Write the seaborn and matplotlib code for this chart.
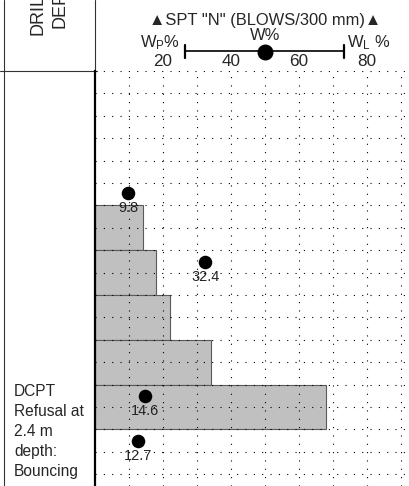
import numpy as np
import pandas as pd
import matplotlib
matplotlib.use("Agg")
import matplotlib.pyplot as plt
import seaborn as sns
from matplotlib import font_manager

# ---------------- data ----------------
bar_top_depth = [0.9, 1.2, 1.5, 1.8, 2.1]          # m
bar_bottom_depth = [1.2, 1.5, 1.8, 2.1, 2.4]       # m
blows = [14, 18, 22, 34, 68]                       # DCPT blows / 300 mm

w_depth = [0.82, 1.28, 2.18, 2.48]                 # m
w_values = [9.8, 32.4, 14.6, 12.7]                 # moisture content %
w_labels = ["9.8", "32.4", "14.6", "12.7"]

scale_ticks = [20, 40, 60, 80]
note_text = "DCPT\nRefusal at\n2.4 m\ndepth:\nBouncing"

# ---------------- fonts ----------------
sns.set_theme(style="white")
names = {f.name for f in font_manager.fontManager.ttflist}
narrow = "Liberation Sans Narrow" in names
main_font = "Liberation Sans Narrow" if narrow else "Liberation Sans"
plt.rcParams["font.family"] = [main_font, "Liberation Sans", "DejaVu Sans"]
plt.rcParams["mathtext.default"] = "regular"
k = 1.0 if narrow else 0.88   # size factor for wide fallback font

W, H = 409, 486
fig = plt.figure(figsize=(W / 100, H / 100), dpi=100)

# background axes in pixel coordinates (for frame lines and header text)
bg = fig.add_axes([0, 0, 1, 1])
bg.set_xlim(0, W)
bg.set_ylim(H, 0)
bg.axis("off")

# main plot axes
x_left_px, y_top_px = 95, 71
px_per_unit = 3.4
px_per_m = 149.3
ax = fig.add_axes([x_left_px / W, 0, (W - x_left_px) / W, (H - y_top_px) / H])
ax.set_facecolor("none")

df_bars = pd.DataFrame({
    "depth": [(a + b) / 2 for a, b in zip(bar_top_depth, bar_bottom_depth)],
    "blows": blows,
})
sns.barplot(data=df_bars, x="blows", y="depth", orient="y", native_scale=True,
            width=1.0, color="#c0c0c0", saturation=1, edgecolor="#5a5a5a",
            linewidth=0.8, errorbar=None, ax=ax)

df_w = pd.DataFrame({"w": w_values, "depth": w_depth})
sns.scatterplot(data=df_w, x="w", y="depth", color="black", s=95,
                edgecolor="black", linewidth=0, zorder=4, ax=ax)
for xv, yv, lab in zip(w_values, w_depth, w_labels):
    ax.annotate(lab, (xv, yv), xytext=(0, -10.5), textcoords="offset points",
                ha="center", va="center", fontsize=11 * (1 if narrow else 0.95),
                color="#222222", zorder=5)

ax.set_xlim(0, (W - x_left_px) / px_per_unit)
ax.set_ylim((H - y_top_px) / px_per_m, 0)
ax.set_xticks(np.arange(10, 91, 10))
ax.set_yticks(np.arange(0, 2.79, 0.15))
ax.tick_params(length=0, labelbottom=False, labelleft=False)
ax.set_xlabel("")
ax.set_ylabel("")
ax.set_axisbelow(False)
ax.grid(True, color="black", linestyle=(0, (1, 6.5)), linewidth=0.8)
for s in ["top", "right", "bottom"]:
    ax.spines[s].set_visible(False)
ax.spines["left"].set_color("black")
ax.spines["left"].set_linewidth(1.6)

# ---------------- frame lines ----------------
bg.plot([3.5, 3.5], [0, H], color="#333333", lw=0.8)
bg.plot([94.5, 94.5], [0, 71], color="#333333", lw=0.8)
bg.plot([0, 97], [71, 71], color="#333333", lw=0.8)

# ---------------- header ----------------
bg.text(37.5, 35, "DRILLING", rotation=90, ha="center", va="bottom", fontsize=13)
bg.text(60, 28, "DEPTH", rotation=90, ha="center", va="bottom", fontsize=13)

hs = 13.5 * k
bg.text(265, 21, "\u25B2SPT \"N\" (BLOWS/300 mm)\u25B2", ha="center", va="center",
        fontsize=hs)
bg.text(160, 43, "W$_{P}$%", ha="center", va="center", fontsize=hs)
bg.text(265, 35, "W%", ha="center", va="center", fontsize=hs)
bg.text(369, 43, "W$_{L}$ %", ha="center", va="center", fontsize=hs)
for t in scale_ticks:
    bg.text(x_left_px + t * px_per_unit, 61.5, str(t), ha="center", va="center",
            fontsize=14 * k)

bg.plot([185, 344], [51.5, 51.5], color="black", lw=1.2)
bg.plot([185, 185], [45, 58], color="black", lw=1.6)
bg.plot([344, 344], [45, 58], color="black", lw=1.6)
bg.scatter([265], [52], s=110, color="black", zorder=5)

# ---------------- note ----------------
ns = 13 if narrow else 11.2
bg.text(14, 384, note_text, ha="left", va="top", fontsize=ns,
        linespacing=1.12 if narrow else 1.42)

fig.savefig("out.png", dpi=100)
